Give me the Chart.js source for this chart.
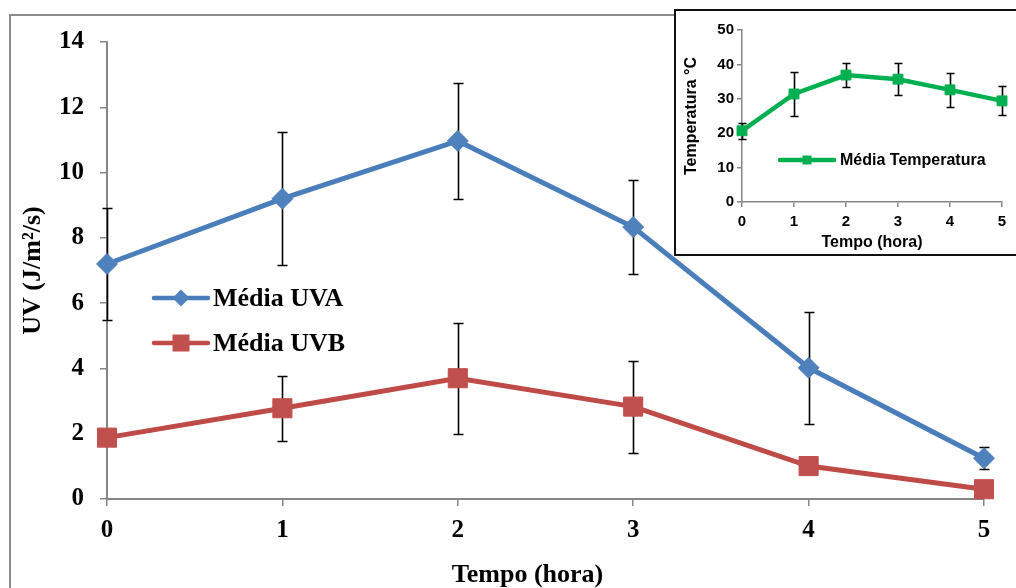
<!DOCTYPE html>
<html>
<head>
<meta charset="utf-8">
<script src="https://cdn.jsdelivr.net/npm/chart.js@4.4.1/dist/chart.umd.min.js"></script>
<style>
  html, body { margin: 0; padding: 0; background: #fff; overflow: hidden; }
  body { width: 1016px; height: 588px; position: relative; }
  #frame { position: absolute; left: 9px; top: 14px; width: 1100px; height: 700px; border: 2px solid #8c8c8c; box-sizing: border-box; }
  #main { position: absolute; left: 0; top: 0; }
  #insetBox { position: absolute; left: 674px; top: 9px; width: 344px; height: 247px; border: 2px solid #111; background: #fff; box-sizing: border-box; }
  #inset { position: absolute; left: 0; top: 0; }
</style>
</head>
<body>
<div id="frame"></div>
<canvas id="main" width="1016" height="588"></canvas>
<div id="insetBox"><canvas id="inset" width="340" height="243"></canvas></div>
<script>
// tempo (hora)
const hours = [0, 1, 2, 3, 4, 5];

// UV medio e desvio
const uva = [7.2, 9.2, 10.97, 8.33, 4.02, 1.25];
const uvaErr = [1.72, 2.03, 1.78, 1.44, 1.72, 0.33];
const uvb = [1.88, 2.78, 3.7, 2.83, 1.01, 0.3];
const uvbErr = [0, 1.0, 1.7, 1.41, 0, 0];

// temperatura (grafico pequeno)
const temp = [20.7, 31.4, 36.9, 35.7, 32.6, 29.4];
const tempErr = [2.3, 6.5, 3.6, 4.6, 5.0, 4.2];

const serif = "'Liberation Serif', 'Times New Roman', serif";
const sans = "'Liberation Sans', Arial, sans-serif";
const axisGray = '#868686';

const toPoints = vals => hours.map((h, i) => ({ x: h, y: vals[i] }));

// barras de erro desenhadas por baixo das linhas
const errorBars = {
  id: 'errorBars',
  beforeDatasetsDraw(chart, args, opts) {
    const { ctx } = chart;
    const x = chart.scales.x, y = chart.scales.y;
    ctx.save();
    ctx.strokeStyle = opts.color;
    ctx.lineWidth = opts.width;
    chart.data.datasets.forEach(ds => {
      if (!ds.errors) return;
      ds.data.forEach((p, i) => {
        const e = ds.errors[i];
        if (!e) return;
        const px = Math.round(x.getPixelForValue(p.x)) + 0.5;
        const top = Math.round(y.getPixelForValue(p.y + e)) + 0.5;
        const bot = Math.round(y.getPixelForValue(p.y - e)) + 0.5;
        ctx.beginPath();
        ctx.moveTo(px, top); ctx.lineTo(px, bot);
        ctx.moveTo(px - opts.cap, top); ctx.lineTo(px + opts.cap, top);
        ctx.moveTo(px - opts.cap, bot); ctx.lineTo(px + opts.cap, bot);
        ctx.stroke();
      });
    });
    ctx.restore();
  }
};

function drawMarker(ctx, style, cx, cy, r, color) {
  ctx.fillStyle = color;
  ctx.beginPath();
  if (style === 'rectRot') {
    ctx.moveTo(cx, cy - r); ctx.lineTo(cx + r, cy); ctx.lineTo(cx, cy + r); ctx.lineTo(cx - r, cy);
  } else {
    ctx.rect(cx - r, cy - r, 2 * r, 2 * r);
  }
  ctx.closePath();
  ctx.fill();
}

// legenda dentro da area do grafico
const boxLegend = {
  id: 'boxLegend',
  afterDraw(chart, args, opts) {
    const { ctx, chartArea } = chart;
    ctx.save();
    chart.data.datasets.forEach((ds, i) => {
      const y0 = chartArea.top + opts.top + i * opts.gap;
      const x0 = chartArea.left + opts.left;
      ctx.strokeStyle = ds.borderColor;
      ctx.lineWidth = opts.lineWidth;
      ctx.lineCap = 'round';
      ctx.beginPath();
      ctx.moveTo(x0, y0); ctx.lineTo(x0 + opts.len, y0);
      ctx.stroke();
      drawMarker(ctx, ds.pointStyle, x0 + opts.len / 2, y0, opts.markers[i], ds.pointBackgroundColor);
      ctx.fillStyle = '#000';
      ctx.font = opts.font;
      ctx.textBaseline = 'middle';
      ctx.fillText(ds.label, x0 + opts.len + opts.textGap, y0 + 1);
    });
    ctx.restore();
  }
};

// titulo do eixo x (centrado no quadro, nao na area)
const xTitle = {
  id: 'xTitle',
  afterDraw(chart, args, opts) {
    const { ctx, chartArea } = chart;
    ctx.save();
    ctx.fillStyle = '#000';
    ctx.font = opts.font;
    ctx.textAlign = 'center';
    ctx.textBaseline = 'middle';
    ctx.fillText(opts.text, (chartArea.left + chartArea.right) / 2 + opts.shift, opts.y);
    ctx.restore();
  }
};

new Chart(document.getElementById('main'), {
  type: 'line',
  data: {
    datasets: [
      {
        label: 'Média UVA',
        data: toPoints(uva),
        errors: uvaErr,
        borderColor: '#4A7EBB',
        backgroundColor: '#4F81BD',
        pointBackgroundColor: '#4F81BD',
        pointBorderColor: '#4F81BD',
        borderWidth: 5,
        pointStyle: 'rectRot',
        pointRadius: 10.5,
        pointBorderWidth: 1,
        tension: 0,
        clip: false
      },
      {
        label: 'Média UVB',
        data: toPoints(uvb),
        errors: uvbErr,
        borderColor: '#BE4B48',
        backgroundColor: '#C0504D',
        pointBackgroundColor: '#C0504D',
        pointBorderColor: '#C0504D',
        borderWidth: 5,
        pointStyle: 'rect',
        pointRadius: 13.5,
        pointBorderWidth: 1,
        tension: 0,
        clip: false
      }
    ]
  },
  options: {
    responsive: false,
    animation: false,
    layout: { padding: { top: 42, right: 32, left: 0, bottom: 0 } },
    plugins: {
      legend: { display: false },
      tooltip: { enabled: false },
      errorBars: { color: '#000', width: 1.6, cap: 5 },
      boxLegend: { left: 47, top: 256, gap: 45, len: 54, lineWidth: 4.5, textGap: 5, markers: [8.5, 8.5], font: 'bold 26px ' + serif },
      xTitle: { text: 'Tempo (hora)', font: 'bold 26px ' + serif, y: 575, shift: -18 }
    },
    scales: {
      x: {
        type: 'linear',
        min: 0,
        max: 5,
        ticks: { stepSize: 1, color: '#000', padding: 10, font: { family: serif, size: 25, weight: 'bold' } },
        grid: { drawOnChartArea: false, tickLength: 7, color: axisGray, lineWidth: 1.5 },
        border: { color: axisGray, width: 2 },
        afterFit: s => { s.height = 89; }
      },
      y: {
        min: 0,
        max: 14,
        ticks: { stepSize: 2, color: '#000', padding: 16, font: { family: serif, size: 25, weight: 'bold' } },
        grid: { drawOnChartArea: false, tickLength: 7, color: axisGray, lineWidth: 1.5 },
        border: { color: axisGray, width: 2 },
        title: { display: true, text: 'UV (J/m²/s)', color: '#000', padding: { top: 18, bottom: 0 }, font: { family: serif, size: 26, weight: 'bold' } },
        afterFit: s => { s.width = 107; }
      }
    }
  },
  plugins: [errorBars, boxLegend, xTitle]
});

new Chart(document.getElementById('inset'), {
  type: 'line',
  data: {
    datasets: [
      {
        label: 'Média Temperatura',
        data: toPoints(temp),
        errors: tempErr,
        borderColor: '#00B050',
        backgroundColor: '#00B050',
        pointBackgroundColor: '#00B050',
        pointBorderColor: '#00B050',
        borderWidth: 4.5,
        pointStyle: 'rect',
        pointRadius: 7,
        pointBorderWidth: 1,
        tension: 0,
        clip: false
      }
    ]
  },
  options: {
    responsive: false,
    animation: false,
    layout: { padding: { top: 19, right: 14, left: 0, bottom: 0 } },
    plugins: {
      legend: { display: false },
      tooltip: { enabled: false },
      errorBars: { color: '#000', width: 1.6, cap: 4 },
      boxLegend: { left: 38, top: 130, gap: 0, len: 54, lineWidth: 4.5, textGap: 6, markers: [4.5], font: 'bold 16px ' + sans }
    },
    scales: {
      x: {
        type: 'linear',
        min: 0,
        max: 5,
        ticks: { stepSize: 1, color: '#000', padding: 6, font: { family: sans, size: 15, weight: 'bold' } },
        grid: { drawOnChartArea: false, tickLength: 5, color: axisGray, lineWidth: 1.5 },
        border: { color: axisGray, width: 1.5 },
        title: { display: true, text: 'Tempo (hora)', color: '#000', padding: { top: 0, bottom: 2 }, font: { family: sans, size: 16, weight: 'bold' } },
        afterFit: s => { s.height = 52; }
      },
      y: {
        min: 0,
        max: 50,
        ticks: { stepSize: 10, color: '#000', padding: 3, font: { family: sans, size: 15, weight: 'bold' } },
        grid: { drawOnChartArea: false, tickLength: 5, color: axisGray, lineWidth: 1.5 },
        border: { color: axisGray, width: 1.5 },
        title: { display: true, text: 'Temperatura °C', color: '#000', padding: { top: 6, bottom: 0 }, font: { family: sans, size: 16, weight: 'bold' } },
        afterFit: s => { s.width = 66; }
      }
    }
  },
  plugins: [errorBars, boxLegend]
});
</script>
</body>
</html>
